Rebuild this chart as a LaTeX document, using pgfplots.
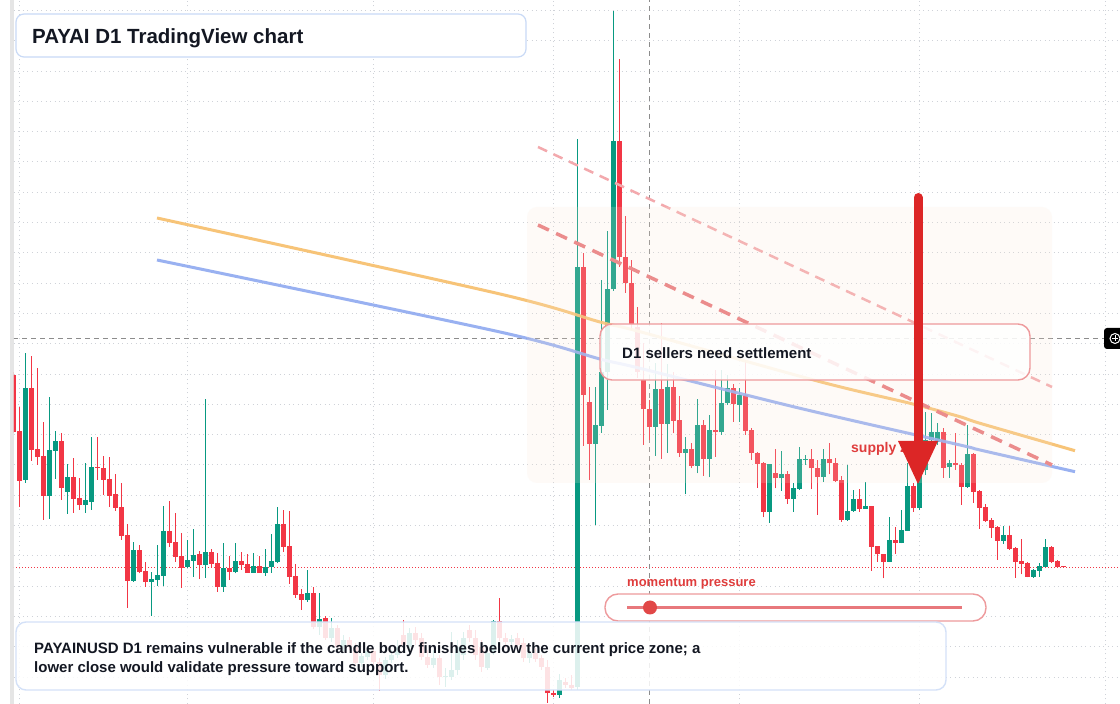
\documentclass[border=0pt]{standalone}
\usepackage{pgfplots}
\pgfplotsset{compat=1.18}
\usepackage{pgfplotstable}
\usepackage{fontspec}
\setmainfont{Liberation Sans}
\definecolor{up}{HTML}{089981}
\definecolor{dn}{HTML}{F23645}
\definecolor{maorange}{HTML}{F7BE6A}
\definecolor{mablue}{HTML}{8FA9F0}
\definecolor{dashred}{HTML}{E8787C}
\definecolor{dashpink}{HTML}{F3A9AD}
\definecolor{ink}{HTML}{131722}
\definecolor{boxblue}{HTML}{C9DAF6}
\definecolor{boxred}{HTML}{EE9A9C}
\definecolor{arrowred}{HTML}{DC2626}
\definecolor{zone}{HTML}{FBE7D6}
\definecolor{gridc}{HTML}{CFD2D8}

% candles: i = day index, o h l c = price (chart units)
\pgfplotstableread{
i o h l c
2 224.3 350.7 221.3 316
6 208.3 306.7 185.3 254
7 253.3 273 225 263
9 212.3 239.7 190.3 227
12 199.3 241 191.3 204
13 202.3 267 194 237
20 123.3 162 122.3 154
23 122.3 132 88.3 125
24 124.3 159 118.3 128.7
25 128.3 198 118.3 173
29 136.7 164 135.7 144
30 143.3 175 127.3 149
32 139 305 126.3 152
35 117.3 160.7 112.3 136
37 132.3 160.7 130.7 143
40 131.3 150.7 131.3 138
42 131.3 155 128 136.7
43 136.7 170 131.3 143
44 142 197 140.7 180
49 104 134 102.3 110.7
51 77.3 111.3 69 85
53 65.7 85.7 62 76.3
55 57.3 69 53 64
58 40.7 51 37 48
59 47.3 58 44 53
62 29 47 25 44
63 44 54 41 49
64 49 64 46 57
66 57.3 76 54 70.7
70 39 54 36 45.7
72 27.3 36 17 28
73 27.3 72.3 24 34
74 34 64 29 57.3
75 49 72 44 65.7
79 36.3 57 34 50.7
80 50.7 84.3 49 83
83 61.7 69 59 65
86 45.7 56 41 50.7
91 9 30 6 24
94 17 564.7 14 437.3
97 260 317.3 179 279
98 278.3 424 271.3 332
99 332 473 294 414.7
100 414.7 693 413 563
107 277.3 341 248.3 315
109 280 340 251.3 317
112 251.3 267.3 209.7 255
114 238.3 305 230.7 279
116 245 289 226.7 274
118 271.7 334 269 300.7
119 300.7 329 299 316
121 299 316 282.3 309
126 192.3 240 181.3 240
128 225.7 253.3 213.3 230
130 205.3 221.3 192.3 216
131 215 257.3 214 245
132 244 249 239 245
135 227.3 255 222.3 245
139 184 239 183.3 193
140 193 214 192.3 205
142 195.3 221.7 195.3 198
146 142.3 187.3 142.3 164
148 161.3 194 160.7 174
149 173.3 240.7 173 218
151 196.3 249 194 239
152 234 292.3 229 264
153 264 291 256 272
154 262.3 280.7 259 272.3
156 236.7 244 226 241.3
159 217.3 279 216 250
165 163.3 178 160 169
170 127.3 135 126.3 134
171 133.3 141.3 127.3 138
172 137.3 165 136.7 157
}\greentab

\pgfplotstableread{
i o h l c
0 329 332 271 272.3
1 273 297.3 197.3 223.3
3 316 348 243.3 254.3
4 255 336 239 247.3
5 248 282 184.3 208.3
8 263 270.7 204 216.3
10 227 246 191.3 205.3
11 206 226 194 199.3
14 237.3 267 224 236.3
15 236 248 209.3 224.3
16 225 247.3 197.3 208.3
17 210 230 193.3 196.3
18 197 221 164.3 168.3
19 169 180 96.3 123.3
21 154 159 130.7 132.3
22 133 142 117.3 122.3
26 173 203 157.3 161.3
27 162 191 142.3 147.3
28 148 170.7 116.3 136.3
31 150 152.7 124.7 139
33 152 154.7 137.3 140
34 141.3 150.7 112.3 117.3
36 136.3 148 124 132.3
38 143 152 134 139
39 140 150 131.3 131.3
41 138 148 131.3 131.3
45 180 194 152.3 157.3
46 158 193 120 127.3
47 128 140 106.3 109
48 110 114.7 94 104
50 110.7 117.3 74.7 77.3
52 86 88 64 66
54 76.3 79 54 57.3
56 64 67 54 57.3
57 57.3 61 38 40.7
60 53 56 39 41.7
61 41.7 46 13 29
65 69 84.3 54 59
67 70.7 77.3 59 64
68 65.7 71 44 47.3
69 47.3 54 36 39
71 45.7 49 19 27.3
76 74 79 62 65.7
77 65.7 74 44 49
78 57.3 64 32.3 37.3
81 83 106.3 63 65.7
82 65.7 71 56 61.7
84 65.7 71 54 59
85 60.7 66 42 45.7
87 50.7 56 42 45
88 45.7 49 34 37.3
89 37.3 44 1 10.7
90 11.3 14 7 9
92 22.3 26 16 19
93 19 29 14 16.3
95 437.3 450.7 258 309
96 301.7 317.3 224 260
101 563 644.7 437.3 446.7
102 446.7 488 411 420.7
103 420.7 444 374 380
104 377.3 397.3 326 332
105 324 361 259 294.7
106 295 304 264 277.3
108 315 381 245 280
110 317 332.3 270.7 283.3
111 284 308 247.3 251.3
113 255 260.7 235.7 238.3
115 279 284 228 245
117 274 334 247.3 271.7
120 316 320 282.3 300
122 309 344 269 273.3
123 274 276 244 250.7
124 250.7 252 216.3 240
125 241.3 242.3 186.7 192.3
127 230.7 254.7 215.7 225.7
129 230 233.3 200 205.3
133 245 254.7 214.7 235.7
134 235.7 244 189 227.3
136 245 260.7 229.7 240.7
137 240.7 245.7 222.3 223.3
138 224 228 182.3 184
141 205 214.7 192.3 195.3
143 198 198 133.3 157.3
144 158 158 142.3 149.7
145 150 150 125.7 142.3
147 164 177.3 150 161.3
150 218 220.7 192.3 195.7
155 272.3 276 226 236.3
157 240.7 270.7 234 238.7
158 239 241 199 217.3
160 250 251.3 201.3 212.3
161 213 214 175.3 196.3
162 197.3 199.7 182 183.3
163 184 185.7 166.3 176.3
164 177 178 144 163.3
166 169 178 154 155.3
167 156 157 126.3 142.3
168 143 164.7 129.7 140.3
169 141 141.7 126.7 127.3
173 157 158 140.7 142
174 143 144 136 136.7
175 136.9 136.9 136.7 136.7
}\redtab

\begin{document}
\begin{tikzpicture}[x=1pt,y=1pt]
\path[use as bounding box] (0,0) rectangle (1120,704);
\fill[white] (0,0) rectangle (1120,704);
\fill[black!10] (10,0) rectangle (14,704);
\begin{axis}[at={(14pt,0pt)}, anchor=south west, scale only axis,
  width=1106pt, height=704pt,
  xmin=0.1167, xmax=184.45, ymin=0, ymax=704,
  axis line style={draw=none}, tick style={draw=none},
  xtick={1,29,60,90,121,151,182}, ytick={27,57.3,...,700},
  xticklabels={}, yticklabels={},
  grid=major, major grid style={gridc, line width=0.9pt, dash pattern=on 1pt off 3.5pt},
  clip=true]
% current price line
\addplot[dn, line width=0.9pt, dash pattern=on 1pt off 2pt] coordinates {(0,136.7) (185,136.7)};
% crosshair
\addplot[black!45, line width=0.9pt, dash pattern=on 5pt off 4pt] coordinates {(106,0) (106,704)};
\addplot[black!45, line width=0.9pt, dash pattern=on 5pt off 4pt] coordinates {(0,366) (182,366)};
% candles: wicks
\addplot[draw=none, error bars/.cd, y dir=plus, y explicit, error mark=none,
  error bar style={draw=up, line width=1pt, solid}]
  table[x=i, y=l, y error plus expr=\thisrow{h}-\thisrow{l}] {\greentab};
\addplot[draw=none, error bars/.cd, y dir=plus, y explicit, error mark=none,
  error bar style={draw=dn, line width=1pt, solid}]
  table[x=i, y=l, y error plus expr=\thisrow{h}-\thisrow{l}] {\redtab};
% candles: bodies
\addplot[draw=none, error bars/.cd, y dir=plus, y explicit, error mark=none,
  error bar style={draw=up, line width=4.6pt, solid}]
  table[x=i, y expr={min(\thisrow{o},\thisrow{c})}, y error plus expr={max(abs(\thisrow{c}-\thisrow{o}),1)}] {\greentab};
\addplot[draw=none, error bars/.cd, y dir=plus, y explicit, error mark=none,
  error bar style={draw=dn, line width=4.6pt, solid}]
  table[x=i, y expr={min(\thisrow{o},\thisrow{c})}, y error plus expr={max(abs(\thisrow{c}-\thisrow{o}),1)}] {\redtab};
% moving averages
\addplot[smooth, maorange, line width=3pt, opacity=0.9] coordinates {
(23.95,486) (81.12,410) (97.78,382) (104.45,372.3) (134.45,322.3) (149.45,300.7) (157.78,287.3) (161.12,280.7) (176.95,253.3)};
\addplot[smooth, mablue, line width=3pt, opacity=0.9] coordinates {
(23.95,444) (81.12,372) (97.78,345) (104.45,335.7) (131.12,295.7) (157.78,259) (161.12,254) (176.95,232.3)};
% trend channel
\addplot[dashpink, line width=2.5pt, dash pattern=on 10pt off 7pt] coordinates {(87.45,557) (173.12,317)};
\addplot[dashred, line width=3.5pt, dash pattern=on 12pt off 8pt] coordinates {(87.45,479) (173.12,239)};
\end{axis}

\begin{scope}[yshift=704pt, y=-1pt]
% zone overlay
\fill[zone, fill opacity=0.18, rounded corners=10pt] (527,207) rectangle (1052,483);
% title box
\draw[boxblue, line width=1.2pt, fill=white, rounded corners=8pt] (16,14) rectangle (526,57);
\node[anchor=base west, inner sep=0, text=ink, font=\bfseries\fontsize{20.5}{24}\selectfont] at (32,43.5) {PAYAI D1 TradingView chart};
% D1 box
\draw[boxred, line width=1.4pt, fill=white, fill opacity=0.85, rounded corners=12pt] (600,324) rectangle (1030,380);
\node[anchor=base west, inner sep=0, text=ink, font=\bfseries\fontsize{15}{18}\selectfont] at (622,358.5) {D1 sellers need settlement};
% supply zone label and arrow
\node[anchor=base west, inner sep=0, text=arrowred!90, font=\bfseries\fontsize{14}{17}\selectfont] at (851,452.5) {supply zone};
\draw[arrowred, line width=9pt, line cap=round] (918,197.5) -- (918,445);
\fill[arrowred] (898,441) -- (938,441) -- (918,484) -- cycle;
% momentum pressure
\node[anchor=base west, inner sep=0, text=arrowred!90, font=\bfseries\fontsize{13}{16}\selectfont] at (627,587) {momentum pressure};
\draw[boxred, line width=1.4pt, fill=white, rounded corners=13pt] (605,594) rectangle (986,621);
\draw[dashred, line width=3pt] (627,607.5) -- (962,607.5);
\fill[arrowred!85] (650,607.5) circle (7);
% bottom box
\draw[boxblue!80, line width=1.4pt, fill=white, fill opacity=0.86, rounded corners=10pt] (16,622) rectangle (946,690);
\node[anchor=base west, inner sep=0, text=ink, font=\bfseries\fontsize{15}{18}\selectfont] at (34,653.5) {PAYAINUSD D1 remains vulnerable if the candle body finishes below the current price zone; a};
\node[anchor=base west, inner sep=0, text=ink, font=\bfseries\fontsize{15}{18}\selectfont] at (34,672.5) {lower close would validate pressure toward support.};
% crosshair price tag
\fill[black, rounded corners=3pt] (1104,328) rectangle (1126,349);
\draw[white, line width=1pt] (1115,338.5) circle (5);
\draw[white, line width=1pt] (1112,338.5) -- (1118,338.5) (1115,335.5) -- (1115,341.5);
\end{scope}
\end{tikzpicture}
\end{document}
